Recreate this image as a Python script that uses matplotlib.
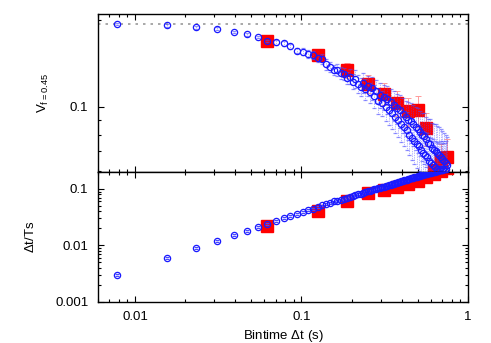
import matplotlib
matplotlib.use("Agg")
import matplotlib.pyplot as plt
import numpy as np
from matplotlib.ticker import LogLocator, NullFormatter, FormatStrFormatter

# fine bins (1/128 s steps)
blue_x = [0.0078, 0.0156, 0.0234, 0.0313, 0.0391, 0.0469, 0.0547, 0.0625,
          0.0703, 0.0781, 0.0859, 0.0938, 0.1016, 0.1094, 0.1172, 0.1250,
          0.1328, 0.1406, 0.1484, 0.1563, 0.1641, 0.1719, 0.1797, 0.1875,
          0.1953, 0.2031, 0.2109, 0.2188, 0.2266, 0.2344, 0.2422, 0.2500,
          0.2578, 0.2656, 0.2734, 0.2813, 0.2891, 0.2969, 0.3047, 0.3125,
          0.3203, 0.3281, 0.3359, 0.3438, 0.3516, 0.3594, 0.3672, 0.3750,
          0.3828, 0.3906, 0.3984, 0.4063, 0.4141, 0.4219, 0.4297, 0.4375,
          0.4453, 0.4531, 0.4609, 0.4688, 0.4766, 0.4844, 0.4922, 0.5000,
          0.5078, 0.5156, 0.5234, 0.5313, 0.5391, 0.5469, 0.5547, 0.5625,
          0.5703, 0.5781, 0.5859, 0.5938, 0.6016, 0.6094, 0.6172, 0.6250,
          0.6328, 0.6406, 0.6484, 0.6563, 0.6641, 0.6719, 0.6797, 0.6875,
          0.6953, 0.7031, 0.7109, 0.7188, 0.7266, 0.7344, 0.7422, 0.7500]
blue_v = [0.193, 0.191, 0.188, 0.186, 0.181, 0.178, 0.174, 0.169,
          0.167, 0.166, 0.162, 0.156, 0.155, 0.152, 0.151, 0.147,
          0.146, 0.140, 0.137, 0.134, 0.134, 0.131, 0.130, 0.126,
          0.127, 0.122, 0.125, 0.120, 0.117, 0.121, 0.115, 0.118,
          0.112, 0.116, 0.109, 0.113, 0.105, 0.110, 0.103, 0.108,
          0.100, 0.106, 0.097, 0.104, 0.095, 0.101, 0.092, 0.099,
          0.090, 0.097, 0.087, 0.094, 0.085, 0.092, 0.083, 0.090,
          0.080, 0.089, 0.078, 0.087, 0.076, 0.085, 0.074, 0.084,
          0.073, 0.082, 0.071, 0.080, 0.069, 0.079, 0.068, 0.077,
          0.067, 0.075, 0.065, 0.074, 0.064, 0.072, 0.063, 0.071,
          0.062, 0.070, 0.061, 0.069, 0.060, 0.068, 0.061, 0.067,
          0.060, 0.066, 0.061, 0.065, 0.060, 0.064, 0.061, 0.063]
blue_v_relerr = [0.01, 0.01, 0.01, 0.01, 0.01, 0.01, 0.01, 0.01,
                 0.02, 0.02, 0.02, 0.02, 0.03, 0.03, 0.03, 0.03,
                 0.04, 0.04, 0.04, 0.04, 0.05, 0.05, 0.05, 0.05,
                 0.06, 0.06, 0.07, 0.07, 0.07, 0.08, 0.08, 0.08,
                 0.08, 0.09, 0.09, 0.09, 0.10, 0.10, 0.10, 0.10,
                 0.11, 0.11, 0.11, 0.11, 0.12, 0.12, 0.12, 0.12,
                 0.13, 0.13, 0.13, 0.14, 0.14, 0.14, 0.15, 0.15,
                 0.15, 0.16, 0.16, 0.16, 0.17, 0.17, 0.17, 0.18,
                 0.18, 0.18, 0.19, 0.19, 0.19, 0.20, 0.20, 0.20,
                 0.21, 0.21, 0.21, 0.22, 0.22, 0.22, 0.23, 0.23,
                 0.23, 0.24, 0.24, 0.24, 0.25, 0.25, 0.25, 0.25,
                 0.25, 0.25, 0.25, 0.25, 0.25, 0.25, 0.25, 0.25]
blue_dt = [0.0030, 0.0060, 0.0090, 0.0120, 0.0150, 0.0180, 0.0210, 0.0240,
           0.0270, 0.0300, 0.0330, 0.0360, 0.0390, 0.0420, 0.0450, 0.0480,
           0.0510, 0.0540, 0.0570, 0.0600, 0.062, 0.065, 0.067, 0.070,
           0.073, 0.075, 0.078, 0.080, 0.083, 0.086, 0.088, 0.091,
           0.093, 0.095, 0.098, 0.100, 0.103, 0.105, 0.108, 0.110,
           0.112, 0.115, 0.117, 0.119, 0.122, 0.124, 0.127, 0.129,
           0.132, 0.134, 0.137, 0.139, 0.142, 0.144, 0.147, 0.150,
           0.152, 0.154, 0.157, 0.159, 0.161, 0.163, 0.166, 0.168,
           0.170, 0.172, 0.175, 0.177, 0.179, 0.181, 0.183, 0.185,
           0.187, 0.189, 0.191, 0.193, 0.195, 0.197, 0.199, 0.201,
           0.203, 0.205, 0.207, 0.209, 0.211, 0.213, 0.215, 0.217,
           0.219, 0.221, 0.223, 0.225, 0.227, 0.229, 0.231, 0.233]

# coarse bins (1/16 s steps)
red_x = [0.0625, 0.125, 0.1875, 0.25, 0.3125, 0.375, 0.4375, 0.5,
         0.5625, 0.625, 0.6875, 0.75]
red_v = [0.169, 0.151, 0.134, 0.120, 0.111, 0.103, 0.0966, 0.097,
         0.0843, 0.0605, 0.0646, 0.067]
red_v_relerr = [0.02, 0.04, 0.06, 0.07, 0.09, 0.10, 0.11, 0.12,
                0.13, 0.15, 0.15, 0.15]
red_dt = [0.022, 0.041, 0.062, 0.084, 0.097, 0.110, 0.122, 0.139,
          0.160, 0.183, 0.210, 0.240]

v_ref = 0.193

plt.rcParams['font.family'] = ['Liberation Sans', 'DejaVu Sans']
plt.rcParams['mathtext.fontset'] = 'custom'
plt.rcParams['mathtext.rm'] = 'Liberation Sans'
plt.rcParams['font.size'] = 9.5

fig = plt.figure(figsize=(4.91, 3.43), dpi=100)
ax1 = fig.add_axes([0.1996, 0.4985, 0.7534, 0.4621])
ax2 = fig.add_axes([0.1996, 0.1204, 0.7534, 0.3781])

bx = np.array(blue_x)
bv = np.array(blue_v)
bdt = np.array(blue_dt)
rx = np.array(red_x)
rv = np.array(red_v)
rdt = np.array(red_dt)

ax1.axhline(v_ref, color='#999999', ls=(0, (1.5, 3)), lw=1.2, zorder=1)

eb = ax1.errorbar(rx, rv, yerr=rv * np.array(red_v_relerr), fmt='s', color='red',
                  ms=8, ecolor='#ff9a9a', elinewidth=0.7, capsize=2, capthick=0.7, zorder=2)
eb = ax1.errorbar(bx, bv, yerr=bv * np.array(blue_v_relerr), fmt='o', mfc='none',
                  mec='#1a1aff', ms=4.5, mew=0.9, ecolor='#4a4aff', elinewidth=0.5,
                  capsize=1.5, capthick=0.5, zorder=3)
eb[2][0].set_linestyle((0, (1, 1.5)))
eb[2][0].set_alpha(0.8)
for c in eb[1]:
    c.set_alpha(0.6)

ax2.errorbar(rx, rdt, fmt='s', color='red', ms=8, zorder=2)
eb2 = ax2.errorbar(bx, bdt, yerr=bdt * 0.04, fmt='o', mfc='none', mec='#1a1aff',
                   ms=4.5, mew=0.9, ecolor='#4a4aff', elinewidth=0.5, capsize=1.5,
                   capthick=0.5, zorder=3)
eb2[2][0].set_linestyle((0, (1, 1.5)))

for ax in (ax1, ax2):
    ax.set_xscale('log')
    ax.set_yscale('log')
    ax.set_xlim(0.006, 1.0)
    ax.tick_params(which='both', direction='in', top=True, right=True, width=0.8)
    ax.tick_params(which='major', length=4.5, pad=7)
    ax.tick_params(which='minor', length=2.5)
    ax.xaxis.set_minor_locator(LogLocator(base=10, subs=np.arange(2, 10)))
    ax.yaxis.set_minor_locator(LogLocator(base=10, subs=np.arange(2, 10)))
    ax.yaxis.set_minor_formatter(NullFormatter())
    ax.xaxis.set_minor_formatter(NullFormatter())
    for s in ax.spines.values():
        s.set_linewidth(1.0)

ax1.set_ylim(0.0594, 0.21)
ax1.yaxis.set_major_formatter(FormatStrFormatter('%g'))
ax1.tick_params(axis='x', which='both', labelbottom=False)
ax1.set_ylabel(r'V$_{\mathrm{f=0.45}}$')
ax1.yaxis.set_label_coords(-0.128, 0.5)

ax2.set_ylim(0.001, 0.2)
ax2.yaxis.set_major_formatter(FormatStrFormatter('%g'))
ax2.xaxis.set_major_formatter(FormatStrFormatter('%g'))
ax2.set_ylabel(r'$\Delta$t/Ts')
ax2.yaxis.set_label_coords(-0.165, 0.5)
ax2.set_xlabel(r'Bintime $\Delta$t (s)', labelpad=3)

fig.savefig('out.png', dpi=100)
